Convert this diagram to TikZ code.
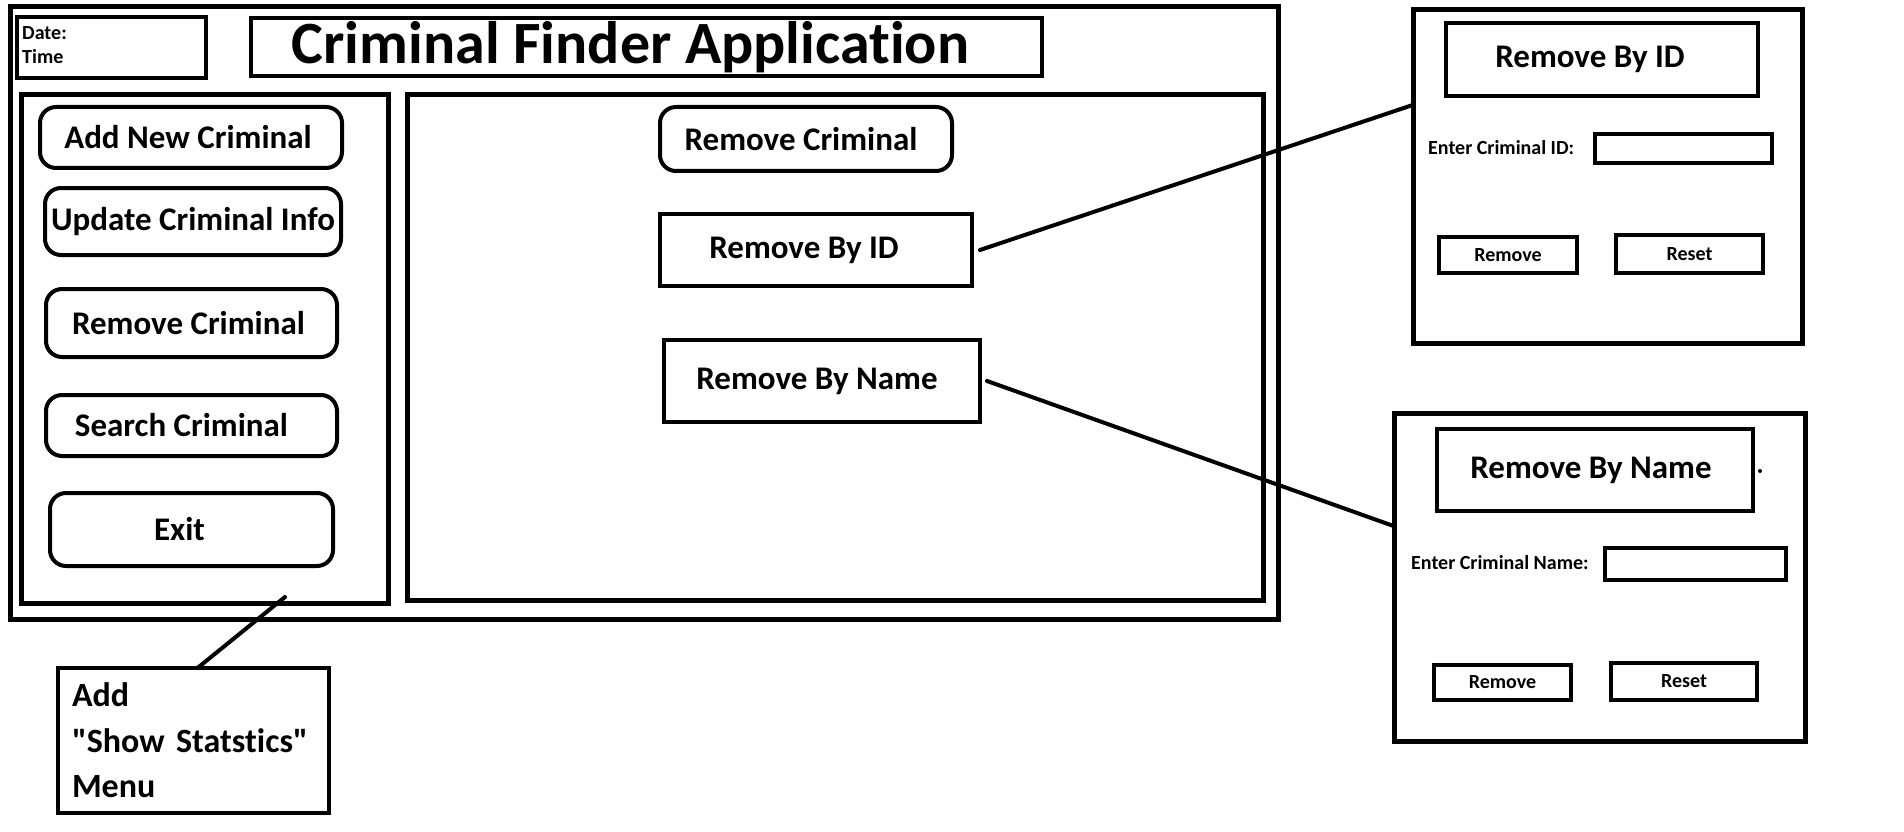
\documentclass[tikz,border=0pt]{standalone}
\usepackage{fontspec}
\newfontfamily\uifont{Carlito}[Ligatures=NoCommon]
\usetikzlibrary{positioning, calc}
\newcommand{\titlefont}{\uifont\fontsize{60}{64}\selectfont\bfseries}
\newcommand{\btnfont}{\uifont\fontsize{33}{40}\selectfont\bfseries}
\newcommand{\menufont}{\uifont\fontsize{34}{45.5}\selectfont\bfseries}
\newcommand{\smallfont}{\uifont\fontsize{20}{24}\selectfont\bfseries}
\tikzstyle{frame} = [draw, line width=5pt, inner sep=0pt, outer sep=0pt]
\tikzstyle{panel} = [draw, line width=4.5pt, inner sep=0pt, outer sep=0pt]
\tikzstyle{menubtn} = [draw, line width=4pt, rounded corners=16pt, inner sep=0pt, outer sep=0pt, font=\btnfont]
\tikzstyle{optbox} = [draw, line width=4.5pt, inner sep=0pt, outer sep=0pt, font=\btnfont]
\tikzstyle{smallbtn} = [draw, line width=4pt, inner sep=0pt, outer sep=0pt, font=\smallfont]
\tikzstyle{link} = [line width=4pt, line cap=round]
\tikzset{nudge/.style={execute at begin node={\hspace*{#1}}}}

\begin{document}
\begin{tikzpicture}[x=1pt, y=-1pt]
      \fill[white] (0,0) rectangle (1904,832);
      \useasboundingbox (0,0) rectangle (1904,832);

      % Main window
      \node[frame, minimum width=1268pt, minimum height=612pt] (app) at (644,313) {};
      \node[panel, minimum width=189pt, minimum height=61pt] (datebox) at (111.5,47.5) {};
      \node[anchor=west, align=left, font=\smallfont, inner sep=0pt] (datetime) at (22,45) {Date:\\Time};
      \node[panel, minimum width=791pt, minimum height=58pt, font=\titlefont, nudge=-32pt] (titlebox) at (646.5,47) {Criminal Finder Application};

      % Left menu
      \node[frame, minimum width=367pt, minimum height=508pt] (leftpanel) at (204.5,349) {};
      \node[menubtn, minimum width=302pt, minimum height=61pt, nudge=-6pt] (addbtn) at (191,137.5) {Add New Criminal};
      \node[menubtn, minimum width=296pt, minimum height=67pt] (updbtn) at (193,221.5) {Update Criminal Info};
      \node[menubtn, minimum width=291pt, minimum height=68pt, nudge=-6pt] (rembtn) at (191.5,323) {Remove Criminal};
      \node[menubtn, minimum width=291pt, minimum height=61pt, nudge=-20pt] (srchbtn) at (191.5,425.5) {Search Criminal};
      \node[menubtn, minimum width=283pt, minimum height=73pt, nudge=-24pt] (exitbtn) at (191.5,529.5) {Exit};

      % Content area
      \node[frame, minimum width=856pt, minimum height=505pt] (mainpanel) at (835,347.5) {};
      \node[menubtn, minimum width=292pt, minimum height=64pt, nudge=-10pt] (remcrim) at (806,139) {Remove Criminal};
      \node[optbox, minimum width=312pt, minimum height=72pt, nudge=-24pt] (byid) at (816,250) {Remove By ID};
      \node[optbox, minimum width=316pt, minimum height=82pt, nudge=-10pt] (byname) at (822,381) {Remove By Name};

      % Note below the menu
      \node[panel, minimum width=271pt, minimum height=145pt, text width=243pt, align=left, font=\menufont] (menubox) at (193.5,740.5) {Add\\"Show Statstics"\\Menu};
      \coordinate (menutail) at (285,597);

      % Remove by ID window
      \node[frame, minimum width=389pt, minimum height=333pt] (idpanel) at (1607.5,176.5) {};
      \node[optbox, minimum width=312pt, minimum height=73pt, nudge=-24pt] (idtitle) at (1602,59.5) {Remove By ID};
      \node[anchor=west, font=\smallfont, inner sep=0pt] (idlabel) at (1428,148) {Enter Criminal ID:};
      \node[smallbtn, minimum width=177pt, minimum height=29pt] (identry) at (1683.5,148.5) {};
      \node[smallbtn, minimum width=138pt, minimum height=36pt] (idremove) at (1508,255) {Remove};
      \node[smallbtn, minimum width=147pt, minimum height=38pt] (idreset) at (1689.5,254) {Reset};

      % Remove by name window
      \node[frame, minimum width=411pt, minimum height=328pt] (namepanel) at (1599.5,577) {};
      \node[optbox, minimum width=316pt, minimum height=82pt, nudge=-8pt] (nametitle) at (1595,470) {Remove By Name};
      \fill (1760,471) circle (2pt);
      \node[anchor=west, font=\smallfont, inner sep=0pt] (namelabel) at (1411,563) {Enter Criminal Name:};
      \node[smallbtn, minimum width=181pt, minimum height=32pt] (nameentry) at (1695.5,564) {};
      \node[smallbtn, minimum width=137pt, minimum height=35pt] (nameremove) at (1502.5,682.5) {Remove};
      \node[smallbtn, minimum width=146pt, minimum height=37pt] (namereset) at (1684,681.5) {Reset};

      % Connections
      \draw[link] ([xshift=8pt]byid.east) -- ($(idpanel.north west)!0.285!(idpanel.south west)$);
      \draw[link] ([xshift=7pt]byname.east) -- ($(namepanel.north west)!0.345!(namepanel.south west)$);
      \draw[link] (menutail) -- ([xshift=4pt]menubox.north);
    \end{tikzpicture}
\end{document}
